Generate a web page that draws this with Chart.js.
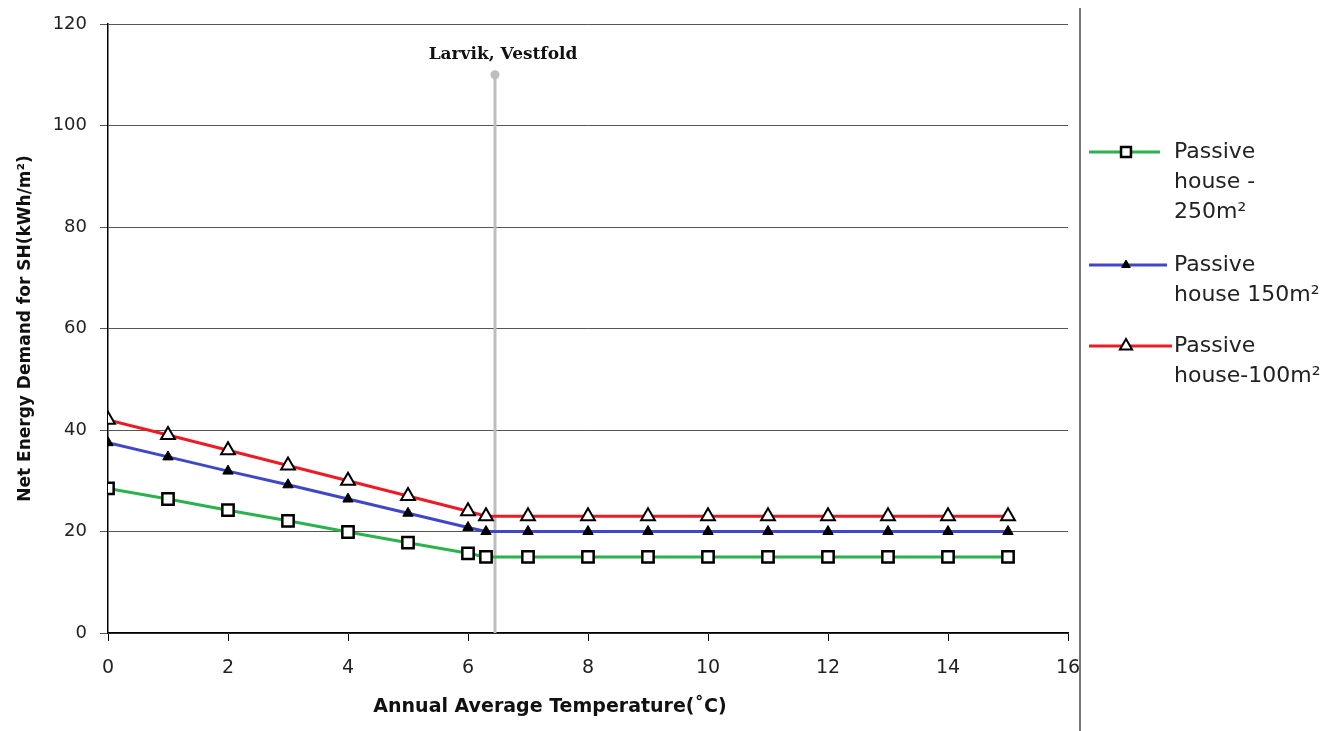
<!DOCTYPE html>
<html lang="en">
<head>
    <meta charset="UTF-8">
    <title>Net Energy Demand for SH</title>
    <script src="https://cdn.jsdelivr.net/npm/chart.js"></script>
    <style>
        body { margin: 0; background: #fff; }
        #chart-container { width: 1333px; height: 731px; }
    </style>
</head>
<body>
    <div id="chart-container">
        <canvas id="shChart"></canvas>
    </div>

    <script>
        // Data
        const temps = [0, 1, 2, 3, 4, 5, 6, 6.3, 7, 8, 9, 10, 11, 12, 13, 14, 15];
        const house250 = [28.5, 26.4, 24.2, 22.1, 19.9, 17.8, 15.7, 15, 15, 15, 15, 15, 15, 15, 15, 15, 15];
        const house150 = [37.5, 34.7, 31.9, 29.2, 26.4, 23.6, 20.8, 20, 20, 20, 20, 20, 20, 20, 20, 20, 20];
        const house100 = [42, 39, 36, 33, 30, 27, 24, 23, 23, 23, 23, 23, 23, 23, 23, 23, 23];
        const seriesNames = ['Passive house - 250m²', 'Passive house 150m²', 'Passive house-100m²'];
        const legendLines = [['Passive', 'house -', '250m²'], ['Passive', 'house 150m²'], ['Passive', 'house-100m²']];
        const larvikTemp = 6.45;
        const larvikTop = 110;
        const larvikName = 'Larvik, Vestfold';
        const xTitle = 'Annual Average Temperature(˚C)';
        const xTicks = [0, 2, 4, 6, 8, 10, 12, 14, 16];
        const yTicks = [0, 20, 40, 60, 80, 100, 120];

        const pts = (ys) => temps.map((t, i) => ({ x: t, y: ys[i] }));

        // legend on the right, Larvik label, x title and the frame line
        const extrasPlugin = {
            id: 'extras',
            afterDraw(chart) {
                const ctx = chart.ctx;
                const xs = chart.scales.x, ys = chart.scales.y;
                ctx.save();

                // Larvik label
                ctx.font = 'bold 17px "DejaVu Serif"';
                ctx.fillStyle = '#111';
                ctx.textAlign = 'center';
                ctx.textBaseline = 'alphabetic';
                ctx.fillText(larvikName, xs.getPixelForValue(larvikTemp) + 8, ys.getPixelForValue(larvikTop) - 16);

                // x axis title (sits left of centre in the original)
                ctx.font = 'bold 19px "DejaVu Sans"';
                ctx.textBaseline = 'middle';
                ctx.fillText(xTitle, 550, 707);

                // frame line
                ctx.strokeStyle = '#777';
                ctx.lineWidth = 2;
                ctx.beginPath();
                ctx.moveTo(1080, 8);
                ctx.lineTo(1080, 731);
                ctx.stroke();

                // legend
                const rows = [152, 265, 346];
                const ends = [1160, 1167, 1172];
                ctx.font = '22px "DejaVu Sans"';
                ctx.textAlign = 'left';
                ctx.textBaseline = 'middle';
                for (let i = 0; i < 3; i++) {
                    const ds = chart.data.datasets[i];
                    const y = rows[i];
                    ctx.strokeStyle = ds.borderColor;
                    ctx.lineWidth = 3;
                    ctx.beginPath();
                    ctx.moveTo(1089, y);
                    ctx.lineTo(ends[i], y);
                    ctx.stroke();
                    ctx.fillStyle = ds.pointBackgroundColor;
                    ctx.strokeStyle = ds.pointBorderColor;
                    ctx.lineWidth = ds.pointBorderWidth;
                    Chart.helpers.drawPoint(ctx, {
                        pointStyle: ds.pointStyle, radius: ds.pointRadius - 1, rotation: 0,
                        borderWidth: ds.pointBorderWidth
                    }, 1126, y);
                    ctx.fillStyle = '#222';
                    legendLines[i].forEach((t, k) => ctx.fillText(t, 1174, y + k * 30));
                }
                ctx.restore();
            }
        };

        const config = {
            type: 'line',
            data: {
                datasets: [
                    {
                        label: seriesNames[0],
                        data: pts(house250),
                        borderColor: '#2bb24c',
                        borderWidth: 3,
                        pointStyle: 'rect',
                        pointRadius: 8,
                        pointBackgroundColor: '#fff',
                        pointBorderColor: '#000',
                        pointBorderWidth: 2.5
                    },
                    {
                        label: seriesNames[1],
                        data: pts(house150),
                        borderColor: '#4046c8',
                        borderWidth: 3,
                        pointStyle: 'triangle',
                        pointRadius: 6,
                        pointBackgroundColor: '#000',
                        pointBorderColor: '#000',
                        pointBorderWidth: 1
                    },
                    {
                        label: seriesNames[2],
                        data: pts(house100),
                        borderColor: '#ec1c24',
                        borderWidth: 3,
                        pointStyle: 'triangle',
                        pointRadius: 8,
                        pointBackgroundColor: '#fff',
                        pointBorderColor: '#000',
                        pointBorderWidth: 2
                    },
                    {
                        label: larvikName,
                        data: [{ x: larvikTemp, y: 0 }, { x: larvikTemp, y: larvikTop }],
                        borderColor: '#bdbdbd',
                        borderWidth: 3,
                        pointRadius: [0, 3],
                        pointBackgroundColor: '#bdbdbd',
                        pointBorderColor: '#bdbdbd'
                    }
                ]
            },
            options: {
                responsive: true,
                maintainAspectRatio: false,
                animation: false,
                layout: { padding: { top: 24, right: 265, left: 0, bottom: 0 } },
                plugins: {
                    legend: { display: false },
                    tooltip: { enabled: false }
                },
                scales: {
                    x: {
                        type: 'linear',
                        min: 0,
                        max: 16,
                        afterBuildTicks: (s) => { s.ticks = xTicks.map(v => ({ value: v })); },
                        afterFit: (s) => { s.height = 98; },
                        border: { color: '#000', width: 1.5 },
                        grid: { drawOnChartArea: false, tickLength: 8, color: '#000' },
                        ticks: {
                            padding: 16,
                            color: '#222',
                            font: { family: 'DejaVu Sans', size: 19 }
                        }
                    },
                    y: {
                        min: 0,
                        max: 120,
                        afterBuildTicks: (s) => { s.ticks = yTicks.map(v => ({ value: v })); },
                        afterFit: (s) => { s.width = 108; },
                        border: { color: '#000', width: 1.5 },
                        grid: { color: '#555', tickLength: 8, lineWidth: 1 },
                        ticks: {
                            padding: 13,
                            color: '#222',
                            font: { family: 'DejaVu Sans', size: 18 }
                        },
                        title: {
                            display: true,
                            text: 'Net Energy Demand for SH(kWh/m²)',
                            color: '#111',
                            padding: { top: 15, bottom: 4 },
                            font: { family: 'DejaVu Sans', size: 17, weight: 'bold' }
                        }
                    }
                }
            },
            plugins: [extrasPlugin]
        };

        const shChart = new Chart(document.getElementById('shChart'), config);
    </script>
</body>
</html>
